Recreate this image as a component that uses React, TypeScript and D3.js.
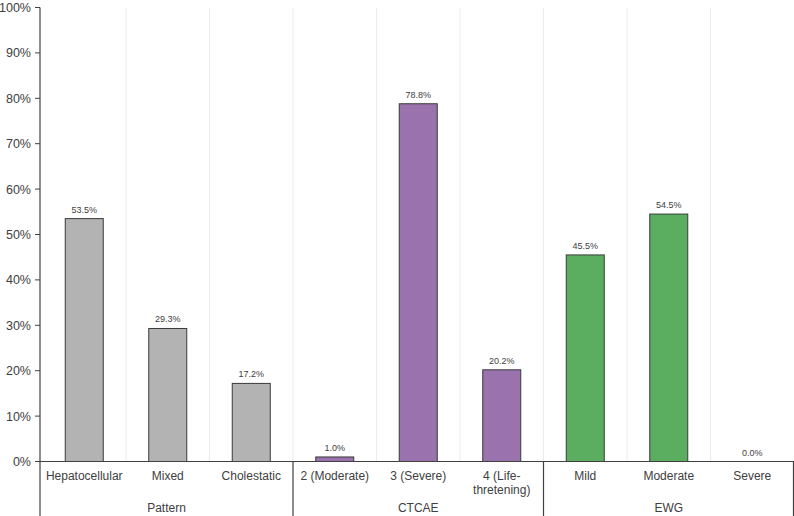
import React from "react";
import * as d3 from "d3";

const categories = ["Hepatocellular", "Mixed", "Cholestatic", "2 (Moderate)", "3 (Severe)", "4 (Life-\nthretening)", "Mild", "Moderate", "Severe"];
const values = [53.5, 29.3, 17.2, 1.0, 78.8, 20.2, 45.5, 54.5, 0.0];
const groupOf = [0, 0, 0, 1, 1, 1, 2, 2, 2];
const groups = ["Pattern", "CTCAE", "EWG"];
const groupColors = ["#b3b3b3", "#9a72ad", "#5bae60"];
const yTicks = [0, 10, 20, 30, 40, 50, 60, 70, 80, 90, 100];

export default function App() {
  const W = 794, H = 516;
  const axisX = 40;
  const x = d3.scaleBand<number>().domain(d3.range(categories.length)).range([42.5, 794]).paddingInner(0).paddingOuter(0);
  const y = d3.scaleLinear().domain([0, 100]).range([461.5, 7.5]);
  const bw = 38;
  const font = "'Liberation Sans', Arial, sans-serif";
  const txt = "#404040";
  const step = x.step();
  return (
    <svg width={W} height={H} style={{ position: "absolute", left: 0, top: 0 }} fontFamily={font}>
      <rect width={W} height={H} fill="#fff" />
      {d3.range(1, categories.length).map(i => (
        <line key={"g" + i} x1={x(i)!} x2={x(i)!} y1={y(100)} y2={y(0)} stroke="#ececec" strokeWidth={1} />
      ))}
      {categories.map((c, i) => {
        const cx = x(i)! + step / 2;
        const v = values[i];
        return (
          <g key={c}>
            {v > 0 && (
              <rect x={cx - bw / 2} y={y(v)} width={bw} height={y(0) - y(v)} fill={groupColors[groupOf[i]]} stroke="#3a3a3a" strokeWidth={1} />
            )}
            <text x={cx} y={y(v) - 6} textAnchor="middle" fontSize={9} fill={txt}>{v.toFixed(1) + "%"}</text>
            {c.split("\n").map((line, k) => (
              <text key={k} x={cx} y={479.5 + k * 14} textAnchor="middle" fontSize={12} fill={txt}>{line}</text>
            ))}
          </g>
        );
      })}
      <line x1={axisX} x2={axisX} y1={y(100)} y2={y(0)} stroke="#404040" strokeWidth={1.2} />
      <line x1={axisX} x2={W} y1={y(0)} y2={y(0)} stroke="#404040" strokeWidth={1.2} />
      {yTicks.map(t => (
        <g key={t}>
          <line x1={axisX - 5} x2={axisX} y1={y(t)} y2={y(t)} stroke="#404040" strokeWidth={1} />
          <text x={axisX - 9} y={y(t) + 4.5} textAnchor="end" fontSize={12.5} fill={txt}>{t + "%"}</text>
        </g>
      ))}
      {[0, 3, 6, 9].map(i => {
        const xx = i === 0 ? axisX : i === 9 ? W - 0.5 : x(i)!;
        return <line key={"s" + i} x1={xx} x2={xx} y1={y(0)} y2={H} stroke="#404040" strokeWidth={1.2} />;
      })}
      {groups.map((g, gi) => {
        const x0 = gi === 0 ? axisX : x(gi * 3)!;
        const x1 = gi === 2 ? W : x(gi * 3 + 3)!;
        return <text key={g} x={(x0 + x1) / 2} y={512} textAnchor="middle" fontSize={12} fill={txt}>{g}</text>;
      })}
    </svg>
  );
}
